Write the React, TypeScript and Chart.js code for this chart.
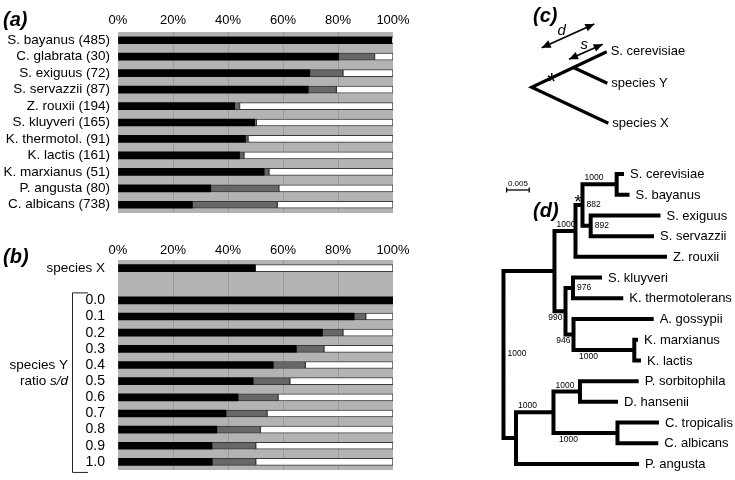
import React, { useEffect, useRef } from "react";
import { Chart, registerables } from "chart.js";

Chart.register(...registerables);

const FONT = "'Liberation Sans', Arial, Helvetica, sans-serif";
const BLACK = "#000000";
const DARK = "#676767";
const WHITE = "#ffffff";
const PLOT_BG = "#b3b3b3";
const GRID = "#9a9a9a";
const EDGE = "#3a3a3a";

const percentTicks = [0, 20, 40, 60, 80, 100];

// ---------- panel (a) ----------
const speciesA = [
  "S. bayanus (485)",
  "C. glabrata (30)",
  "S. exiguus (72)",
  "S. servazzii (87)",
  "Z. rouxii (194)",
  "S. kluyveri (165)",
  "K. thermotol. (91)",
  "K. lactis (161)",
  "K. marxianus (51)",
  "P. angusta (80)",
  "C. albicans (738)",
];
const blackA = [99.5, 80.2, 69.7, 69.1, 42.4, 49.7, 46.3, 44.2, 53.1, 33.7, 27.0];
const greyA = [0, 13.1, 12.1, 10.3, 1.8, 0.6, 1.0, 1.6, 1.8, 24.8, 30.9];
const whiteA = [0.5, 6.7, 18.2, 20.6, 55.8, 49.7, 52.7, 54.2, 45.1, 41.5, 42.1];

// ---------- panel (b) ----------
const labelsB = ["species X", "", "0.0", "0.1", "0.2", "0.3", "0.4", "0.5", "0.6", "0.7", "0.8", "0.9", "1.0"];
const blackB = [49.9, 0, 100, 85.8, 74.3, 64.8, 56.4, 49.1, 43.6, 39.2, 35.9, 34.1, 34.2];
const greyB = [0, 0, 0, 4.3, 7.5, 10.1, 11.7, 13.4, 14.6, 15.0, 15.9, 16.0, 15.9];
const whiteB = [50.1, 0, 0, 9.9, 18.2, 25.1, 31.9, 37.5, 41.8, 45.8, 48.2, 49.9, 49.9];
const bracketFirst = 2;
const bracketLast = 12;
const speciesYRow = 6;
const ratioRow = 7;

// ---------- panel (c) ----------
const diagramRoot = { x: 0, y: 0 };
const diagramSplit = { x: 42.3, y: 19.6 };
const diagramTipNames = ["S. cerevisiae", "species Y", "species X"];
const diagramTipX = [75, 75.6, 76.6];
const diagramTipY = [35.6, 4, -36];
const arrowD = [{ x: 10, y: 39.6 }, { x: 62.6, y: 63.3 }];
const arrowS = [{ x: 37.3, y: 28 }, { x: 71, y: 43 }];
const labelD = { x: 30, y: 56.6 };
const labelS = { x: 52.6, y: 42.3 };
const diagramStar = { x: 20, y: 10 };

// ---------- panel (d) ----------
const leafNames = [
  "S. cerevisiae",
  "S. bayanus",
  "S. exiguus",
  "S. servazzii",
  "Z. rouxii",
  "S. kluyveri",
  "K. thermotolerans",
  "A. gossypii",
  "K. marxianus",
  "K. lactis",
  "P. sorbitophila",
  "D. hansenii",
  "C. tropicalis",
  "C. albicans",
  "P. angusta",
];
const leafDepths = [
  0.02666, 0.02788, 0.03473, 0.0333, 0.03617, 0.02179, 0.0265, 0.03323, 0.02976, 0.03042, 0.02991,
  0.02533, 0.0344, 0.03425, 0.02998,
];
const nodeIds = ["root", "C", "B", "A", "cb", "es", "E", "D", "F", "ML", "J", "I", "G", "H"];
const nodeDepths = [0, 0.01128, 0.01593, 0.01748, 0.02504, 0.01929, 0.01372, 0.01538, 0.01549, 0.02894, 0.00277, 0.01106, 0.01692, 0.02522];
const nodeChildren = [
  ["C", "J"],
  ["B", "E"],
  ["A", "Z. rouxii"],
  ["cb", "es"],
  ["S. cerevisiae", "S. bayanus"],
  ["S. exiguus", "S. servazzii"],
  ["D", "F"],
  ["S. kluyveri", "K. thermotolerans"],
  ["A. gossypii", "ML"],
  ["K. marxianus", "K. lactis"],
  ["I", "P. angusta"],
  ["G", "H"],
  ["P. sorbitophila", "D. hansenii"],
  ["C. tropicalis", "C. albicans"],
];
const supportNodes = ["cb", "A", "es", "B", "D", "E", "F", "ML", "root", "I", "G", "H"];
const supportValues = [1000, 882, 892, 1000, 976, 990, 946, 1000, 1000, 1000, 1000, 1000];
const supportPlaces = ["above", "right", "right", "above", "right", "belowLeft", "belowLeft", "below", "right", "above", "above", "below"];
const starNode = "A";
const scaleBarStart = 0.0007;
const scaleBarLength = 0.005;
const scaleBarY = 0.772;

// ---------- helpers ----------
function text(ctx: CanvasRenderingContext2D, s: string, x: number, y: number, font: string, align: CanvasTextAlign = "left", baseline: CanvasTextBaseline = "middle", color = "#000") {
  ctx.save();
  ctx.font = font;
  ctx.fillStyle = color;
  ctx.textAlign = align;
  ctx.textBaseline = baseline;
  ctx.fillText(s, x, y);
  ctx.restore();
}

const LETTER_FONT = `italic bold 20px ${FONT}`;

const bgPlugin = {
  id: "plotBg",
  beforeDraw(chart: any) {
    const { ctx, chartArea: a } = chart;
    ctx.save();
    ctx.fillStyle = PLOT_BG;
    ctx.fillRect(a.left, a.top, a.right - a.left, a.bottom - a.top);
    ctx.restore();
  },
};

function barConfig(labels: string[], black: number[], grey: number[], white: number[], o: any): any {
  const toData = (arr: number[]) => arr.map((v) => (v ? v : null));
  return {
    type: "bar",
    data: {
      labels,
      datasets: [
        { data: toData(black), backgroundColor: BLACK, borderColor: BLACK, borderWidth: 0 },
        { data: toData(grey), backgroundColor: DARK, borderColor: EDGE, borderWidth: 1, borderSkipped: false },
        { data: toData(white), backgroundColor: WHITE, borderColor: EDGE, borderWidth: 1, borderSkipped: false },
      ].map((d) => ({ ...d, barThickness: 7, stack: "s" })),
    },
    options: {
      indexAxis: "y",
      responsive: false,
      animation: false,
      events: [],
      layout: { padding: { left: 0, right: 27, top: 0, bottom: o.bottom } },
      plugins: { legend: { display: false }, tooltip: { enabled: false } },
      scales: {
        x: {
          type: "linear",
          position: "top",
          stacked: true,
          min: 0,
          max: 100,
          afterBuildTicks: (s: any) => {
            s.ticks = percentTicks.map((v) => ({ value: v }));
          },
          ticks: {
            callback: (v: any) => v + "%",
            font: { family: FONT, size: 13 },
            color: "#000",
            padding: o.xPad,
            maxRotation: 0,
            autoSkip: false,
          },
          grid: {
            color: (c: any) => (c.tick && (c.tick.value === 0 || c.tick.value === 100) ? "rgba(0,0,0,0)" : GRID),
            drawTicks: false,
            lineWidth: 1,
          },
          border: { display: false },
          afterFit: (s: any) => {
            s.height = o.xHeight;
            s.paddingLeft = 0;
            s.paddingRight = 0;
          },
        },
        y: {
          stacked: true,
          ticks: {
            font: o.yFont,
            color: "#000",
            padding: o.yPad,
            autoSkip: false,
          },
          grid: { display: false, drawTicks: false },
          border: { display: false },
          afterFit: (s: any) => {
            s.width = 118;
            s.paddingTop = 0;
            s.paddingBottom = 0;
          },
        },
      },
    },
    plugins: [bgPlugin, o.extra],
  };
}

function configA() {
  return barConfig(speciesA, blackA, greyA, whiteA, {
    bottom: 9,
    xHeight: 32,
    xPad: 4,
    yPad: 8,
    yFont: { family: FONT, size: 13.5 },
    extra: {
      id: "extraA",
      afterDraw(chart: any) {
        text(chart.ctx, "(a)", 3, 20, LETTER_FONT);
      },
    },
  });
}

function configB() {
  return barConfig(labelsB, blackB, greyB, whiteB, {
    bottom: 10,
    xHeight: 20,
    xPad: 2,
    yPad: 13,
    yFont: (c: any) => ({ family: FONT, size: c.index === 0 ? 13.5 : 14 }),
    extra: {
      id: "extraB",
      afterDraw(chart: any) {
        const ctx = chart.ctx;
        const ys = chart.scales.y;
        text(ctx, "(b)", 3, 17, LETTER_FONT);
        const f = `13.5px ${FONT}`;
        const fi = `italic 13.5px ${FONT}`;
        text(ctx, "species Y", 68, ys.getPixelForValue(speciesYRow), f, "right");
        ctx.save();
        ctx.font = f;
        const w1 = ctx.measureText("ratio ").width;
        ctx.font = fi;
        const w2 = ctx.measureText("s/d").width;
        ctx.restore();
        const yr = ys.getPixelForValue(ratioRow);
        text(ctx, "ratio ", 68 - w1 - w2, yr, f);
        text(ctx, "s/d", 68 - w2, yr, fi);
        const top = ys.getPixelForValue(bracketFirst) - 8;
        const bot = ys.getPixelForValue(bracketLast) + 10;
        ctx.save();
        ctx.strokeStyle = "#222";
        ctx.lineWidth = 1;
        ctx.beginPath();
        ctx.moveTo(88, top + 0.5);
        ctx.lineTo(72.5, top + 0.5);
        ctx.lineTo(72.5, bot + 0.5);
        ctx.lineTo(88, bot + 0.5);
        ctx.stroke();
        ctx.restore();
      },
    },
  });
}

function configC(): any {
  const tips = diagramTipNames.map((n, i) => ({ x: diagramTipX[i], y: diagramTipY[i] }));
  const gap = { x: NaN, y: NaN };
  const lines = [tips[0], diagramRoot, tips[2], gap, diagramSplit, tips[1]];
  const arrowStyle = { showLine: true, borderColor: "#000", borderWidth: 1.8, pointRadius: 0 };
  return {
    type: "scatter",
    data: {
      datasets: [
        { data: lines, showLine: true, borderColor: "#000", borderWidth: 3.2, pointRadius: 0, spanGaps: false, borderJoinStyle: "miter", borderCapStyle: "butt" },
        { data: arrowD, ...arrowStyle },
        { data: arrowS, ...arrowStyle },
      ],
    },
    options: {
      responsive: false,
      animation: false,
      events: [],
      layout: { padding: 0 },
      plugins: { legend: { display: false }, tooltip: { enabled: false } },
      scales: {
        x: { type: "linear", display: false, min: -31.7, max: 203.3 },
        y: { type: "linear", display: false, min: -62.7, max: 87.3 },
      },
    },
    plugins: [
      {
        id: "diagramText",
        afterDatasetsDraw(chart: any) {
          const ctx = chart.ctx;
          const X = chart.scales.x;
          const Y = chart.scales.y;
          const px = (p: any) => [X.getPixelForValue(p.x), Y.getPixelForValue(p.y)];
          const head = (tip: number[], from: number[]) => {
            const a = Math.atan2(tip[1] - from[1], tip[0] - from[0]);
            const L = 9;
            const W = 4;
            const bx = tip[0] - L * Math.cos(a);
            const by = tip[1] - L * Math.sin(a);
            ctx.beginPath();
            ctx.moveTo(tip[0], tip[1]);
            ctx.lineTo(bx + W * Math.sin(a), by - W * Math.cos(a));
            ctx.lineTo(bx - W * Math.sin(a), by + W * Math.cos(a));
            ctx.closePath();
            ctx.fill();
          };
          ctx.save();
          ctx.fillStyle = "#000";
          [arrowD, arrowS].forEach((ar) => {
            const p0 = px(ar[0]);
            const p1 = px(ar[1]);
            head(p1, p0);
            head(p0, p1);
          });
          ctx.restore();
          diagramTipNames.forEach((n, i) => {
            const p = px({ x: diagramTipX[i], y: diagramTipY[i] });
            text(ctx, n, p[0] + 4, p[1], `13px ${FONT}`);
          });
          const pd = px(labelD);
          text(ctx, "d", pd[0], pd[1], `italic 15px ${FONT}`, "center");
          const ps = px(labelS);
          text(ctx, "s", ps[0], ps[1], `italic 15px ${FONT}`, "center");
          const pa = px(diagramStar);
          text(ctx, "*", pa[0], pa[1] + 13, `23px ${FONT}`, "center", "alphabetic");
          text(ctx, "(c)", 33, 16, LETTER_FONT);
        },
      },
    ],
  };
}

function buildTree() {
  const pos: Record<string, { x: number; y: number }> = {};
  leafNames.forEach((n, i) => {
    pos[n] = { x: leafDepths[i], y: i };
  });
  const idx: Record<string, number> = {};
  nodeIds.forEach((id, i) => (idx[id] = i));
  const parent: Record<string, string> = {};
  nodeChildren.forEach((ch, i) => ch.forEach((c) => (parent[c] = nodeIds[i])));
  const getPos = (id: string): { x: number; y: number } => {
    if (pos[id]) return pos[id];
    const i = idx[id];
    const ys = nodeChildren[i].map((c) => getPos(c).y);
    pos[id] = { x: nodeDepths[i], y: ys.reduce((a, b) => a + b, 0) / ys.length };
    return pos[id];
  };
  nodeIds.forEach(getPos);
  const pts: any[] = [];
  nodeChildren.forEach((ch, i) => {
    const n = pos[nodeIds[i]];
    const [a, b] = ch.map((c) => pos[c]).sort((p, q) => p.y - q.y);
    pts.push({ x: a.x, y: a.y }, { x: n.x, y: a.y }, { x: n.x, y: b.y }, { x: b.x, y: b.y }, { x: NaN, y: NaN });
  });
  return { pos, parent, pts };
}

function configD(): any {
  const { pos, parent, pts } = buildTree();
  return {
    type: "scatter",
    data: {
      datasets: [
        { data: pts, showLine: true, borderColor: "#000", borderWidth: 4, pointRadius: 0, spanGaps: false, borderJoinStyle: "miter", borderCapStyle: "butt" },
        {
          data: [
            { x: scaleBarStart, y: scaleBarY },
            { x: scaleBarStart + scaleBarLength, y: scaleBarY },
          ],
          showLine: true,
          borderColor: "#000",
          borderWidth: 1.3,
          pointRadius: 0,
        },
      ],
    },
    options: {
      responsive: false,
      animation: false,
      events: [],
      layout: { padding: 0 },
      plugins: { legend: { display: false }, tooltip: { enabled: false } },
      scales: {
        x: { type: "linear", display: false, min: -0.00077, max: 0.05122 },
        y: { type: "linear", display: false, min: -1.159, max: 14.772, reverse: true },
      },
    },
    plugins: [
      {
        id: "treeText",
        afterDatasetsDraw(chart: any) {
          const ctx = chart.ctx;
          const X = chart.scales.x;
          const Y = chart.scales.y;
          const fx = (v: number) => X.getPixelForValue(v);
          const fy = (v: number) => Y.getPixelForValue(v);
          leafNames.forEach((n) => {
            const p = pos[n];
            text(ctx, n, fx(p.x) + 6, fy(p.y) + 0.5, `13px ${FONT}`);
          });
          const sf = `8.5px ${FONT}`;
          supportNodes.forEach((id, i) => {
            const p = pos[id];
            const place = supportPlaces[i];
            const s = String(supportValues[i]);
            const nx = fx(p.x);
            const ny = fy(p.y);
            const parX = parent[id] ? fx(pos[parent[id]].x) : nx;
            if (place === "above") text(ctx, s, parX + 2, ny - 6.3, sf);
            else if (place === "below") text(ctx, s, parX + 5.5, ny + 6.5, sf);
            else if (place === "right") text(ctx, s, nx + 4, ny - 0.5, sf);
            else text(ctx, s, nx - 3, ny + 6, sf, "right");
          });
          // asterisk on the branch into the marked node
          const sp = pos[starNode];
          const sx = (fx(pos[parent[starNode]].x) + fx(sp.x)) / 2 - 1;
          text(ctx, "*", sx, fy(sp.y) - 7 + 10, `18px ${FONT}`, "center", "alphabetic");
          // scale bar end ticks and label
          const x0 = fx(scaleBarStart);
          const x1 = fx(scaleBarStart + scaleBarLength);
          const yb = fy(scaleBarY);
          ctx.save();
          ctx.strokeStyle = "#000";
          ctx.lineWidth = 1.3;
          ctx.beginPath();
          ctx.moveTo(x0, yb - 2.5);
          ctx.lineTo(x0, yb + 2.5);
          ctx.moveTo(x1, yb - 2.5);
          ctx.lineTo(x1, yb + 2.5);
          ctx.stroke();
          ctx.restore();
          text(ctx, String(scaleBarLength), (x0 + x1) / 2, yb - 6.5, `8px ${FONT}`, "center");
          text(ctx, "(d)", 33, 61, LETTER_FONT);
        },
      },
    ],
  };
}

function ChartCanvas(props: { left: number; top: number; width: number; height: number; make: () => any }) {
  const ref = useRef<HTMLCanvasElement>(null);
  useEffect(() => {
    const chart = new Chart(ref.current as HTMLCanvasElement, props.make());
    return () => chart.destroy();
  }, []);
  return (
    <canvas
      ref={ref}
      width={props.width}
      height={props.height}
      style={{ position: "absolute", left: props.left, top: props.top, width: props.width, height: props.height }}
    />
  );
}

export default function App() {
  return (
    <div style={{ position: "absolute", left: 0, top: 0, width: 735, height: 480, background: "#fff", overflow: "hidden" }}>
      <ChartCanvas left={0} top={0} width={420} height={222} make={configA} />
      <ChartCanvas left={0} top={240} width={420} height={240} make={configB} />
      <ChartCanvas left={500} top={0} width={235} height={150} make={configC} />
      <ChartCanvas left={500} top={150} width={235} height={330} make={configD} />
    </div>
  );
}
